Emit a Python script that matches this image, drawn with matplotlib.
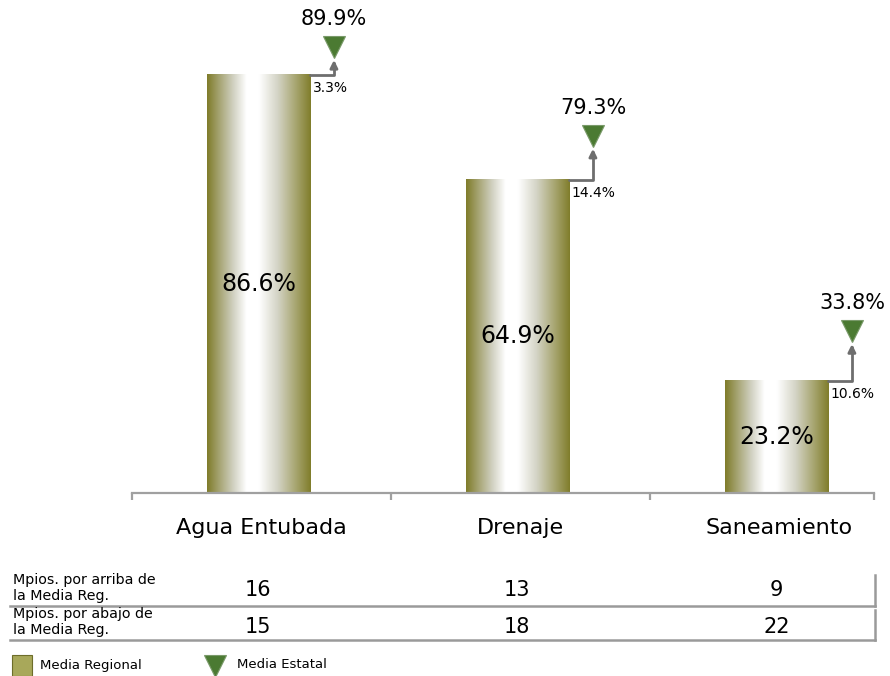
import numpy as np
import matplotlib.pyplot as plt
from matplotlib.colors import LinearSegmentedColormap
from matplotlib.transforms import ScaledTranslation, blended_transform_factory
from matplotlib.lines import Line2D
from matplotlib.patches import Rectangle

# datos
categorias = ['Agua Entubada', 'Drenaje', 'Saneamiento']
media_regional = [86.6, 64.9, 23.2]
media_estatal = [89.9, 79.3, 33.8]
diferencia = [3.3, 14.4, 10.6]
mpios_arriba = [16, 13, 9]
mpios_abajo = [15, 18, 22]
filas = ['Mpios. por arriba de\nla Media Reg.', 'Mpios. por abajo de\nla Media Reg.']

# desplazamiento vertical (px) del triangulo sobre la barra
subida = [28, 44, 50]

W, H = 890, 676
fig = plt.figure(figsize=(W / 100, H / 100), dpi=100)


def fx(px):
    return px / W


def fy(py):
    return 1 - py / H


ax = fig.add_axes([fx(132), fy(493), 742 / W, 493 / H])
ax.set_xlim(-0.5, 2.365)
ax.set_ylim(0, 102.1)

cmap = LinearSegmentedColormap.from_list('olivo', [
    (0.0, '#7f7c2a'), (0.1, '#a09e68'), (0.25, '#d0d0c0'), (0.38, '#ffffff'),
    (0.5, '#ffffff'), (0.68, '#d4d4c6'), (0.86, '#a6a46e'), (1.0, '#807d2b')])
grad = np.linspace(0, 1, 256).reshape(1, -1)

ancho = 0.398
x = np.arange(len(categorias)) - 0.012
gris = '#6e6e6e'

for i, (xc, v, e, d) in enumerate(zip(x, media_regional, media_estatal, diferencia)):
    ax.imshow(grad, cmap=cmap, aspect='auto', extent=(xc - ancho / 2, xc + ancho / 2, 0, v),
              zorder=2, interpolation='bilinear')
    ax.text(xc, v / 2, f'{v:.1f}%', ha='center', va='center', fontsize=17, zorder=3)
    xr = xc + ancho / 2
    # etiqueta de diferencia
    t = ax.transData + ScaledTranslation(0.03, -0.13, fig.dpi_scale_trans)
    ax.text(xr, v, f'{d:.1f}%', transform=t, ha='left', va='center', fontsize=10)
    # triangulo media estatal
    tm = ax.transData + ScaledTranslation(0.24, subida[i] / 100, fig.dpi_scale_trans)
    ax.plot([xr], [v], marker='v', ms=16, color='#4b7a32', mec='#7a9a6a', mew=0.8,
            transform=tm, zorder=4, clip_on=False)
    tl = ax.transData + ScaledTranslation(0.24, (subida[i] + 28) / 100, fig.dpi_scale_trans)
    ax.text(xr, v, f'{e:.1f}%', transform=tl, ha='center', va='center', fontsize=15)
    # flecha
    ta = ax.transData + ScaledTranslation(0.24, (subida[i] - 13) / 100, fig.dpi_scale_trans)
    ax.annotate('', xy=(xr, v), xycoords=ta, xytext=(xr, v), textcoords='data',
                arrowprops=dict(arrowstyle='-|>,head_length=0.45,head_width=0.22',
                                connectionstyle='angle,angleA=0,angleB=90,rad=0',
                                color=gris, lw=2, shrinkA=0, shrinkB=0),
                annotation_clip=False)

for s in ['top', 'right', 'left']:
    ax.spines[s].set_visible(False)
ax.spines['bottom'].set_color('#a0a0a0')
ax.spines['bottom'].set_linewidth(1.6)
ax.set_yticks([])
ax.set_xticks([-0.5, 0.5, 1.5, 2.365])
ax.set_xticklabels([])
ax.tick_params(axis='x', which='major', direction='out', length=5, width=1.6, color='#a0a0a0')
ax.set_xticks(np.arange(len(categorias)), minor=True)
ax.set_xticklabels(categorias, minor=True, fontsize=16)
ax.tick_params(axis='x', which='minor', length=0, pad=18)

# tabla inferior
bt = blended_transform_factory(ax.transData, fig.transFigure)
for fila, vals, yc, yn, ylin, ytop in [(filas[0], mpios_arriba, 588, 590, 606, 575),
                                       (filas[1], mpios_abajo, 622, 627, 640, 610)]:
    fig.text(fx(13), fy(yc), fila, ha='left', va='center', fontsize=10.3, linespacing=1.15)
    for xc, n in zip(x, vals):
        ax.text(xc, fy(yn), str(n), transform=bt, ha='center', va='center', fontsize=15)
    fig.add_artist(Line2D([fx(10), fx(875)], [fy(ylin), fy(ylin)], color='#9a9a9a', lw=1.8))
    fig.add_artist(Line2D([fx(875), fx(875)], [fy(ytop), fy(ylin)], color='#9a9a9a', lw=1.8))

# leyenda
fig.add_artist(Rectangle((fx(12), fy(676)), 20 / W, 21 / H, facecolor='#a8a85a',
                         edgecolor='#6d6d2a', lw=0.8))
fig.text(fx(40), fy(665), 'Media Regional', ha='left', va='center', fontsize=9.5)
fig.add_artist(Line2D([fx(215)], [fy(666)], marker='v', ms=16, color='#4b7a32',
                      mec='#7a9a6a', mew=0.8))
fig.text(fx(237), fy(665), 'Media Estatal', ha='left', va='center', fontsize=9.5)

fig.savefig('out.png', dpi=100)
